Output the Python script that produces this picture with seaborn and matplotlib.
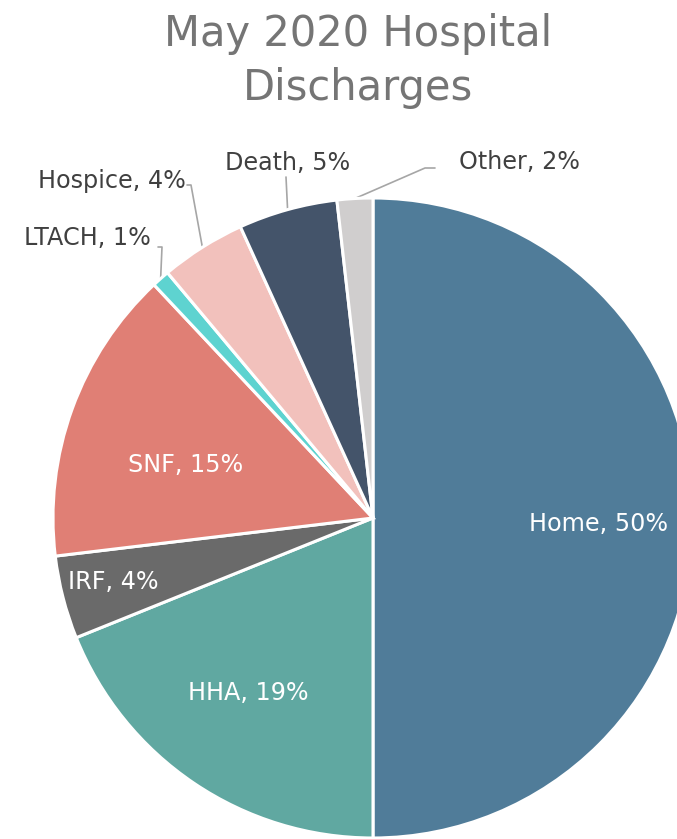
import numpy as np
import seaborn as sns
import matplotlib.pyplot as plt

# 数据
categories = ['Home', 'HHA', 'IRF', 'SNF', 'LTACH', 'Hospice', 'Death', 'Other']
shares = [50.0, 18.9, 4.2, 14.9, 0.9, 4.3, 5.0, 1.8]
colors = ['#507C99', '#60A8A1', '#6A6A6A', '#E07F75', '#5ED3D0', '#F2C1BC', '#44546A', '#D0CECE']

sns.set_theme(style='white')
plt.rcParams['font.family'] = ['DejaVu Sans']

# 像素坐标 -> 数据坐标 (饼图中心与半径)
W, H = 677, 839
cx, cy, R = 373, 518, 320
def px(x, y):
    return (x - cx) / R, (cy - y) / R

fig = plt.figure(figsize=(W / 100, H / 100), dpi=100)
ax = fig.add_axes([0, 0, 1, 1])

wedges, _ = ax.pie(shares, colors=sns.color_palette(colors), startangle=90, counterclock=False,
                   radius=1, center=(0, 0), frame=True,
                   wedgeprops=dict(edgecolor='white', linewidth=2.2))
ax.set_xlim(-cx / R, (W - cx) / R)
ax.set_ylim(-(H - cy) / R, cy / R)
ax.axis('off')

labels = [f'{c}, {round(s):.0f}%' for c, s in zip(categories, shares)]

# 标签位置 (像素)
inside_pos = {'Home': (599, 524), 'HHA': (248, 693), 'IRF': (113, 582), 'SNF': (186, 465)}
outside_pos = {'LTACH': (87, 238), 'Hospice': (112, 181), 'Death': (288, 163), 'Other': (520, 162)}

for w, c, lab in zip(wedges, categories, labels):
    if c in inside_pos:
        x, y = px(*inside_pos[c])
        ax.text(x, y, lab, ha='center', va='center', color='white', fontsize=17.2)
    else:
        x, y = px(*outside_pos[c])
        ax.text(x, y, lab, ha='center', va='center', color='#404040', fontsize=17.2)

# 引导线
def edge_point(w, r=1.0):
    a = np.deg2rad((w.theta1 + w.theta2) / 2)
    return r * np.cos(a), r * np.sin(a)

leaders = {'LTACH': [(158, 247), (162, 247)], 'Hospice': [(187, 185), (191, 185)],
           'Death': [(286, 177)], 'Other': [(435, 168), (425, 168)]}
for w, c in zip(wedges, categories):
    if c in leaders:
        pts = [px(*p) for p in leaders[c]] + [edge_point(w, 1.0)]
        xs, ys = zip(*pts)
        ax.plot(xs, ys, color='#A6A6A6', linewidth=1.2, zorder=0)

fig.text(358 / W, 1 - 61 / H, 'May 2020 Hospital\nDischarges', ha='center', va='center',
         fontsize=30, color='#757575', linespacing=1.35)

plt.savefig('out.png', dpi=100)
